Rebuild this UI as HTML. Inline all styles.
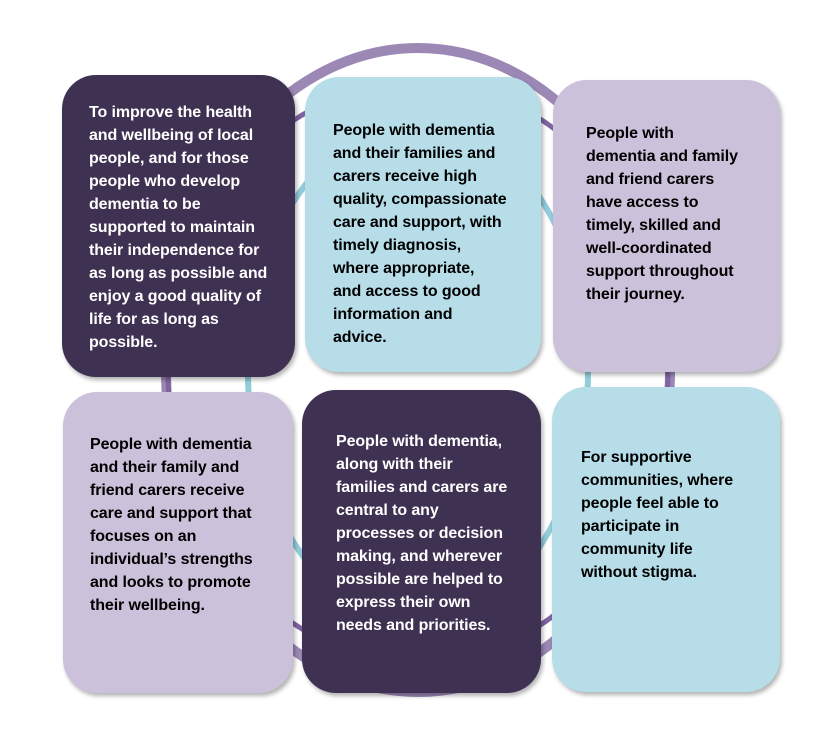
<!DOCTYPE html>
<html><head><style>
body{margin:0;width:840px;height:736px;background:#fff;position:relative;overflow:hidden;font-family:"Liberation Sans",Arial,sans-serif}
.b{position:absolute;border-radius:34px;box-shadow:2px 3px 4px rgba(0,0,0,0.3)}
.t{position:absolute;font-weight:bold;font-size:16px;line-height:23px;letter-spacing:-0.1px;white-space:nowrap}
.d{background:#3f3151}.l{background:#b6dde8}.p{background:#ccc1da}
.w{color:#fff}.k{color:#000}
</style></head><body>
<svg width="840" height="736" style="position:absolute;left:0;top:0">
<ellipse cx="418" cy="370" rx="252" ry="322" fill="none" stroke="#9b88b4" stroke-width="10"/>
<ellipse cx="418" cy="372" rx="170" ry="250" fill="none" stroke="#92cddc" stroke-width="6"/>
<ellipse cx="418" cy="372" rx="250" ry="290" fill="none" stroke="#8064a2" stroke-width="5"/>
</svg>
<div class="b d" style="left:62px;top:75px;width:233px;height:302px"></div>
<div class="b l" style="left:305px;top:77px;width:236px;height:295px"></div>
<div class="b p" style="left:553px;top:80px;width:227px;height:292px"></div>
<div class="b p" style="left:63px;top:392px;width:230px;height:301px"></div>
<div class="b d" style="left:302px;top:390px;width:239px;height:303px"></div>
<div class="b l" style="left:552px;top:387px;width:228px;height:305px"></div>
<div class="t w" style="left:89px;top:101px">To improve the health<br>and wellbeing of local<br>people, and for those<br>people who develop<br>dementia to be<br>supported to maintain<br>their independence for<br>as long as possible and<br>enjoy a good quality of<br>life for as long as<br>possible.</div>
<div class="t k" style="left:333px;top:119px">People with dementia<br>and their families and<br>carers receive high<br>quality, compassionate<br>care and support, with<br>timely diagnosis,<br>where appropriate,<br>and access to good<br>information and<br>advice.</div>
<div class="t k" style="left:586px;top:122px">People with<br>dementia and family<br>and friend carers<br>have access to<br>timely, skilled and<br>well-coordinated<br>support throughout<br>their journey.</div>
<div class="t k" style="left:90px;top:433px">People with dementia<br>and their family and<br>friend carers receive<br>care and support that<br>focuses on an<br>individual’s strengths<br>and looks to promote<br>their wellbeing.</div>
<div class="t w" style="left:336px;top:430px">People with dementia,<br>along with their<br>families and carers are<br>central to any<br>processes or decision<br>making, and wherever<br>possible are helped to<br>express their own<br>needs and priorities.</div>
<div class="t k" style="left:581px;top:446px">For supportive<br>communities, where<br>people feel able to<br>participate in<br>community life<br>without stigma.</div>
</body></html>
